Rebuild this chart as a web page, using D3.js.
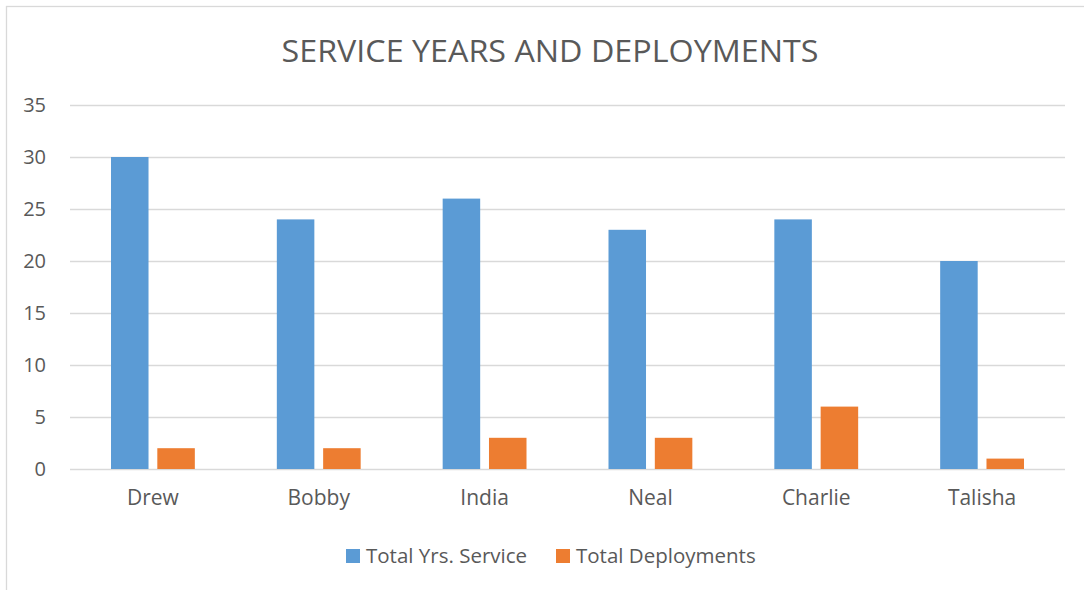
<!DOCTYPE html>
<html>
<head>
<meta charset="utf-8">
<script src="https://cdn.jsdelivr.net/npm/d3@7"></script>
<style>
  body { margin: 0; background: #fff; }
  text { font-family: "Open Sans", Calibri, sans-serif; fill: #595959; }
</style>
</head>
<body>
<div id="chart"></div>
<script>
// Chart data
const categories = ["Drew", "Bobby", "India", "Neal", "Charlie", "Talisha"];
const seriesNames = ["Total Yrs. Service", "Total Deployments"];
const yearsService = [30, 24, 26, 23, 24, 20];
const deployments = [2, 2, 3, 3, 6, 1];
const yTicks = [0, 5, 10, 15, 20, 25, 30, 35];
const colors = ["#5B9BD5", "#ED7D31"];

const W = 1084, H = 590;
const margin = { top: 105, right: 19, bottom: 121, left: 70 };
const width = W - margin.left - margin.right,
      height = H - margin.top - margin.bottom;

const svg = d3.select("#chart").append("svg")
    .attr("width", W)
    .attr("height", H);

// chart frame (only top and left edges show in the picture)
svg.append("rect")
    .attr("x", 6.5).attr("y", 6.5)
    .attr("width", W + 20).attr("height", H + 20)
    .attr("fill", "none")
    .attr("stroke", "#D9D9D9")
    .attr("stroke-width", 1.3);

// title
svg.append("text")
    .attr("x", 550)
    .attr("y", 62)
    .attr("text-anchor", "middle")
    .style("font-size", "31px")
    .attr("textLength", 537)
    .attr("lengthAdjust", "spacingAndGlyphs")
    .text("SERVICE YEARS AND DEPLOYMENTS");

const g = svg.append("g")
    .attr("transform", `translate(${margin.left},${margin.top})`);

const x0 = d3.scaleBand()
    .domain(categories)
    .range([0, width])
    .paddingInner(0)
    .paddingOuter(0);

const x1 = d3.scaleBand()
    .domain(seriesNames)
    .range([41, x0.bandwidth() - 41])
    .paddingInner(0.19);

const y = d3.scaleLinear()
    .domain([0, 35])
    .range([height, 0]);

// gridlines
g.append("g")
    .call(d3.axisLeft(y).tickValues(yTicks).tickSize(-width).tickFormat(""))
    .call(a => a.select(".domain").remove())
    .call(a => a.selectAll(".tick line").attr("stroke", "#D9D9D9").attr("stroke-width", 1.3));

// y tick labels
g.append("g")
    .call(d3.axisLeft(y).tickValues(yTicks).tickSize(0).tickPadding(24))
    .call(a => a.select(".domain").remove())
    .call(a => a.selectAll(".tick text")
        .attr("fill", "#595959")
        .style("font-size", "20px")
        .style("font-family", "'Open Sans', sans-serif"));

// bars
const rows = categories.map((c, i) => ({ cat: c, vals: [yearsService[i], deployments[i]] }));

const groups = g.selectAll(".grp")
    .data(rows)
    .enter().append("g")
    .attr("transform", d => `translate(${x0(d.cat)},0)`);

groups.selectAll("rect")
    .data(d => d.vals.map((v, k) => ({ key: seriesNames[k], v: v, k: k })))
    .enter().append("rect")
    .attr("x", d => x1(d.key))
    .attr("y", d => y(d.v))
    .attr("width", x1.bandwidth())
    .attr("height", d => y(0) - y(d.v))
    .attr("fill", d => colors[d.k]);

// category labels
g.append("g")
    .attr("transform", `translate(0,${height})`)
    .call(d3.axisBottom(x0).tickSize(0).tickPadding(21))
    .call(a => a.select(".domain").remove())
    .call(a => a.selectAll(".tick text")
        .attr("fill", "#595959")
        .style("font-size", "21px")
        .style("font-family", "'Open Sans', sans-serif"));

// legend
const legendX = [346, 556];
const legend = svg.selectAll(".legend")
    .data(seriesNames)
    .enter().append("g")
    .attr("transform", (d, i) => `translate(${legendX[i]},549)`);

legend.append("rect")
    .attr("width", 14).attr("height", 14)
    .attr("fill", (d, i) => colors[i]);

legend.append("text")
    .attr("x", 20)
    .attr("y", 14)
    .style("font-size", "20.5px")
    .text(d => d);
</script>
</body>
</html>
